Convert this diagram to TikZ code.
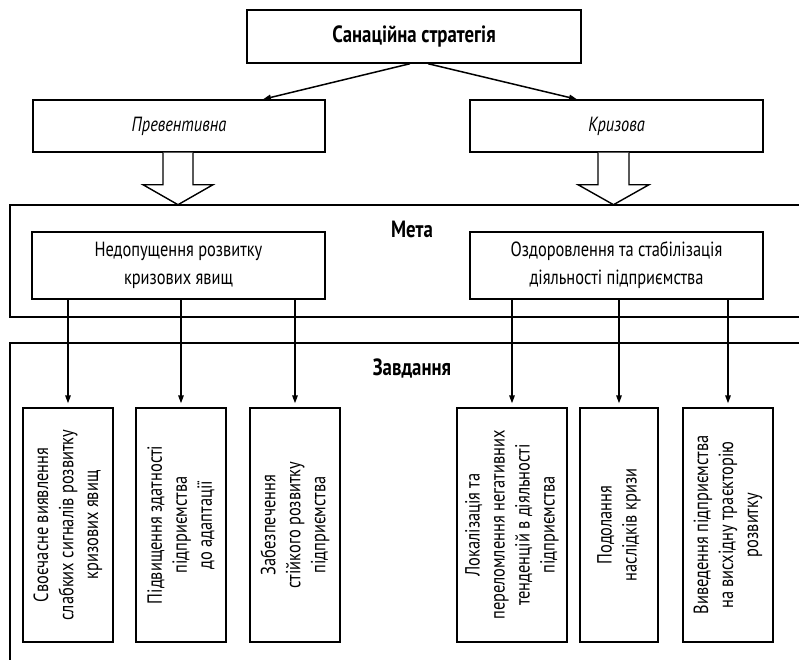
\documentclass[tikz,border=0pt]{standalone}
\usepackage{fontspec}
\setmainfont{PT Sans}[FakeStretch=0.8]
\usetikzlibrary{arrows.meta,calc}

\tikzset{
  box/.style={draw, line width=1.4pt, inner sep=0pt},
  frame/.style={line width=1.9pt},
  link/.style={line width=1.5pt, -{Triangle[length=8pt,width=5.5pt]}},
  blockarrow/.style={line width=1.4pt, fill=white, line join=miter},
  txt/.style={font=\fontsize{20.5}{28}\selectfont, align=center},
  vtxt/.style={font=\fontsize{20.5}{25}\selectfont, align=center, rotate=90, inner sep=0pt},
  heading/.style={font=\fontsize{23.5}{26}\selectfont\bfseries},
}

\begin{document}
\begin{tikzpicture}[x=1pt, y=-1pt]
  \useasboundingbox (0,0) rectangle (799,659);

  % strategy and its two kinds
  \node[box, minimum width=334pt, minimum height=53pt, heading] (top) at (414,36.5) {Санаційна стратегія};
  \node[box, minimum width=292pt, minimum height=52pt, txt, font=\fontsize{20.5}{28}\selectfont\itshape] (prev) at (179,126) {Превентивна};
  \node[box, minimum width=293pt, minimum height=52pt, txt, font=\fontsize{20.5}{28}\selectfont\itshape] (kriz) at (616.5,126) {Кризова};

  \draw[link] ($(top.south)+(-4,0)$) -- ($(prev.north)+(84,0)$);
  \draw[link] ($(top.south)+(14,0)$) -- ($(kriz.north)+(-39.5,0)$);

  % goal frame
  \draw[frame] (801,205) -- (10,205) -- (10,317) -- (801,317);
  \node[heading] (goal) at (412,229) {Мета};
  \node[box, minimum width=293pt, minimum height=67pt, txt] (m1) at (178.5,265.5) {Недопущення розвитку\\кризових явищ};
  \node[box, minimum width=293pt, minimum height=67pt, txt] (m2) at (616.5,265.5) {Оздоровлення та стабілізація\\діяльності підприємства};

  % hollow block arrows into the goal frame
  \draw[blockarrow] ($(prev.south)+(-16,0)$) -- ++(0,32) -- ++(-20,0) -- ++(35,20) -- ++(35,-20) -- ++(-20,0) -- ++(0,-32);
  \draw[blockarrow] ($(kriz.south)+(-18.5,0)$) -- ++(0,32) -- ++(-20,0) -- ++(35.5,20) -- ++(35.5,-20) -- ++(-20,0) -- ++(0,-32);

  % tasks frame
  \draw[frame] (801,343) -- (10,343) -- (10,661);
  \node[heading] (tasks) at (412,368) {Завдання};

  % task boxes
  \node[box, minimum width=90pt, minimum height=234pt] (t1) at (68,525) {};
  \node[box, minimum width=90pt, minimum height=234pt] (t2) at (181,525) {};
  \node[box, minimum width=90pt, minimum height=234pt] (t3) at (295,525) {};
  \node[box, minimum width=110pt, minimum height=234pt] (t4) at (512,525) {};
  \node[box, minimum width=78pt, minimum height=234pt] (t5) at (619,525) {};
  \node[box, minimum width=90pt, minimum height=234pt] (t6) at (728,525) {};

  \node[vtxt] (t1l) at (t1) {Своєчасне виявлення\\слабких сигналів розвитку\\кризових явищ};
  \node[vtxt] (t2l) at (t2) {Підвищення здатності\\підприємства\\до адаптації};
  \node[vtxt] (t3l) at (t3) {Забезпечення\\стійкого розвитку\\підприємства};
  \node[vtxt] (t4l) at (t4) {Локалізація та\\переломлення негативних\\тенденцій в діяльності\\підприємства};
  \node[vtxt] (t5l) at (t5) {Подолання\\наслідків кризи};
  \node[vtxt] (t6l) at (t6) {Виведення підприємства\\на висхідну траєкторію\\розвитку};

  % goal to task connectors
  \foreach \g/\t in {m1/t1, m1/t2, m1/t3, m2/t4, m2/t5, m2/t6}
    \draw[link, shorten >=4pt] (\g.south -| \t.north) -- (\t.north);
\end{tikzpicture}
\end{document}
